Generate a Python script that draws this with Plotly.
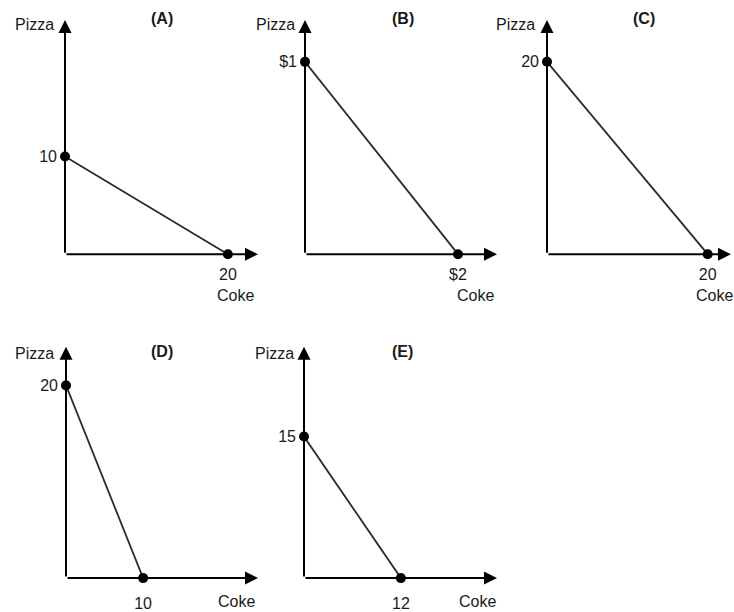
import plotly.graph_objects as go

# ---- data ----
panel_names = ["(A)", "(B)", "(C)", "(D)", "(E)"]
pizza_intercepts = [10, 1, 20, 20, 15]
coke_intercepts = [20, 2, 20, 10, 12]
pizza_labels = ["10", "$1", "20", "20", "15"]
coke_labels = ["20", "$2", "20", "10", "12"]
y_axis_label = "Pizza"
x_axis_label = "Coke"

# ---- layout (pixels in a 734x612 canvas) ----
W, H = 734, 612
panels_px = [
    dict(ox=65, oy=255, xt=258, yt=20, xmax=23.7, ymax=24.0, row=0),
    dict(ox=305, oy=255, xt=497, yt=20, xmax=2.51, ymax=1.218, row=0),
    dict(ox=547, oy=255, xt=731, yt=20, xmax=22.9, ymax=24.35, row=0),
    dict(ox=66, oy=580, xt=258, yt=348, xmax=24.9, ymax=24.0, row=1),
    dict(ox=304, oy=580, xt=497, yt=348, xmax=23.9, ymax=24.5, row=1),
]
title_px = [(162, 19), (403, 19), (644, 19), (162, 353), (402, 353)]
pizza_px = [(56, 25), (297, 25), (537, 25), (56, 355), (296, 355)]
coke_px = [(256, 296), (496, 296), (735, 296), (257, 603), (498, 603)]

FONT = "Liberation Sans, Arial, sans-serif"
TXT = "#1a1a1a"
FS = 16

def px2x(p):
    return p / W

def px2y(p):
    return 1 - p / H

fig = go.Figure()
annotations = []
for i, p in enumerate(panels_px):
    n = "" if i == 0 else str(i + 1)
    xa, ya = "x" + n, "y" + n
    fig.add_trace(go.Scatter(
        x=[0, coke_intercepts[i]], y=[pizza_intercepts[i], 0],
        xaxis=xa, yaxis=ya, mode="lines+markers",
        line=dict(color="#2a2a2a", width=1.8),
        marker=dict(color="black", size=10),
        cliponaxis=False, showlegend=False, hoverinfo="skip"))
    xstand = 9 if p["row"] == 0 else 14
    fig.layout["xaxis" + n] = dict(
        domain=[px2x(p["ox"]), px2x(p["xt"])], range=[0, p["xmax"]],
        anchor=ya, showgrid=False, zeroline=False, showline=False,
        tickvals=[coke_intercepts[i]], ticktext=[coke_labels[i]], ticks="",
        ticklabelstandoff=xstand,
        tickfont=dict(family=FONT, size=FS, color=TXT), fixedrange=True)
    fig.layout["yaxis" + n] = dict(
        domain=[px2y(p["oy"]), px2y(p["yt"])], range=[0, p["ymax"]],
        anchor=xa, showgrid=False, zeroline=False, showline=False,
        tickvals=[pizza_intercepts[i]], ticktext=[pizza_labels[i]], ticks="",
        ticklabelstandoff=7,
        tickfont=dict(family=FONT, size=FS, color=TXT), fixedrange=True)
    for (x, y) in [(p["xmax"], 0), (0, p["ymax"])]:
        annotations.append(dict(
            x=x, y=y, ax=0, ay=0, xref=xa, yref=ya, axref=xa, ayref=ya,
            showarrow=True, arrowhead=2, arrowsize=1.3, arrowwidth=2,
            arrowcolor="black", standoff=0, startstandoff=0, text=""))
    tx, ty = title_px[i]
    annotations.append(dict(x=px2x(tx), y=px2y(ty), xref="paper", yref="paper",
                            text="<b>" + panel_names[i] + "</b>", showarrow=False,
                            font=dict(family=FONT, size=FS, color=TXT),
                            xanchor="center", yanchor="middle"))
    qx, qy = pizza_px[i]
    annotations.append(dict(x=px2x(qx), y=px2y(qy), xref="paper", yref="paper",
                            text=y_axis_label, showarrow=False,
                            font=dict(family=FONT, size=FS, color=TXT),
                            xanchor="right", yanchor="middle"))
    cx, cy = coke_px[i]
    annotations.append(dict(x=px2x(cx), y=px2y(cy), xref="paper", yref="paper",
                            text=x_axis_label, showarrow=False,
                            font=dict(family=FONT, size=FS, color=TXT),
                            xanchor="right", yanchor="middle"))

fig.update_layout(
    width=W, height=H, margin=dict(l=0, r=0, t=0, b=0),
    paper_bgcolor="white", plot_bgcolor="white",
    annotations=annotations, showlegend=False)

fig.write_html("out.html", config={"displayModeBar": False},
               post_script="document.body.style.margin='0';document.body.style.overflow='hidden';")
